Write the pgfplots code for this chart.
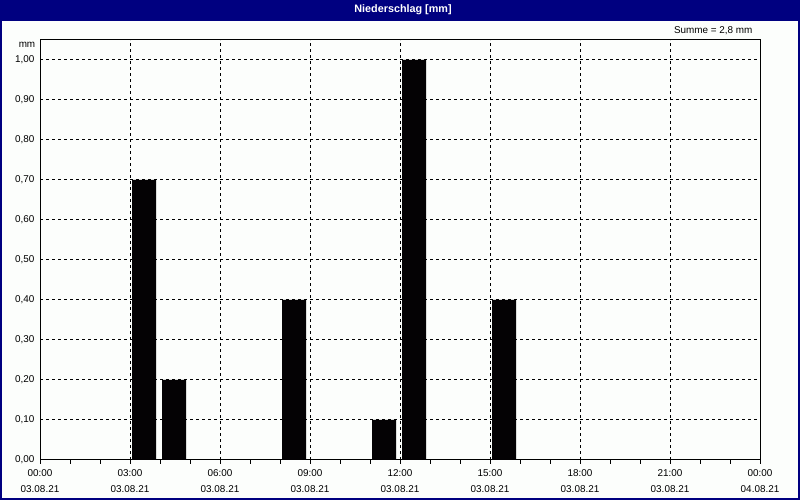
\documentclass[border=0pt]{standalone}
\usepackage{pgfplots}
\pgfplotsset{compat=1.18}
\usepackage{fontspec}
\setmainfont{Liberation Sans}
\definecolor{navy}{RGB}{0,0,128}
\definecolor{bg}{RGB}{252,254,252}
\definecolor{barc}{RGB}{4,2,4}
\newcommand{\lbl}{\fontsize{9.9}{16}\selectfont}
\begin{document}
\begin{tikzpicture}
\useasboundingbox (0pt,0pt) rectangle (800pt,500pt);
\fill[bg] (0pt,0pt) rectangle (800pt,500pt);
\fill[navy] (0pt,479pt) rectangle (800pt,500pt);
\draw[navy, line width=2pt] (1pt,1pt) rectangle (799pt,499pt);
\node[text=white, font=\fontsize{10.8}{12}\selectfont\bfseries] at (403pt,490pt) {Niederschlag [mm]};
\node[anchor=east, font=\lbl] at (756pt,469pt) {Summe = 2,8 mm};
\node[font=\lbl] at (27pt,455pt) {mm};
\begin{axis}[
  at={(40pt,40pt)}, anchor=south west, scale only axis,
  width=720pt, height=420pt,
  xmin=0, xmax=24, ymin=0, ymax=1.05,
  xtick={0,3,6,9,12,15,18,21,24},
  xticklabels={{00:00\\03.08.21},{03:00\\03.08.21},{06:00\\03.08.21},{09:00\\03.08.21},{12:00\\03.08.21},{15:00\\03.08.21},{18:00\\03.08.21},{21:00\\03.08.21},{00:00\\04.08.21}},
  minor xtick={1,2,4,5,7,8,10,11,13,14,16,17,19,20,22,23},
  ytick={0,0.1,0.2,0.3,0.4,0.5,0.6,0.7,0.8,0.9,1.0},
  yticklabel style={xshift=2pt, /pgf/number format/.cd, fixed, fixed zerofill, precision=2, use comma, assume math mode=true},
  ticklabel style={font=\lbl},
  xticklabel style={align=center, yshift=-2pt},
  xtick pos=bottom, ytick pos=left,
  tick align=outside,
  major tick length=4pt, minor tick length=4pt,
  xtick style={black, line width=1pt},
  ytick style={draw=none},
  xmajorgrids, ymajorgrids,
  major grid style={black, line width=1pt, dash pattern=on 3pt off 3pt},
  axis line style={black, line width=1pt},
]
\addplot[ybar, fill=barc, draw=none, bar width=24pt] coordinates {
  (3.47,0.7) (4.47,0.2) (8.47,0.4) (11.47,0.1) (12.47,1.0) (15.47,0.4)
};
\end{axis}
\end{tikzpicture}
\end{document}
